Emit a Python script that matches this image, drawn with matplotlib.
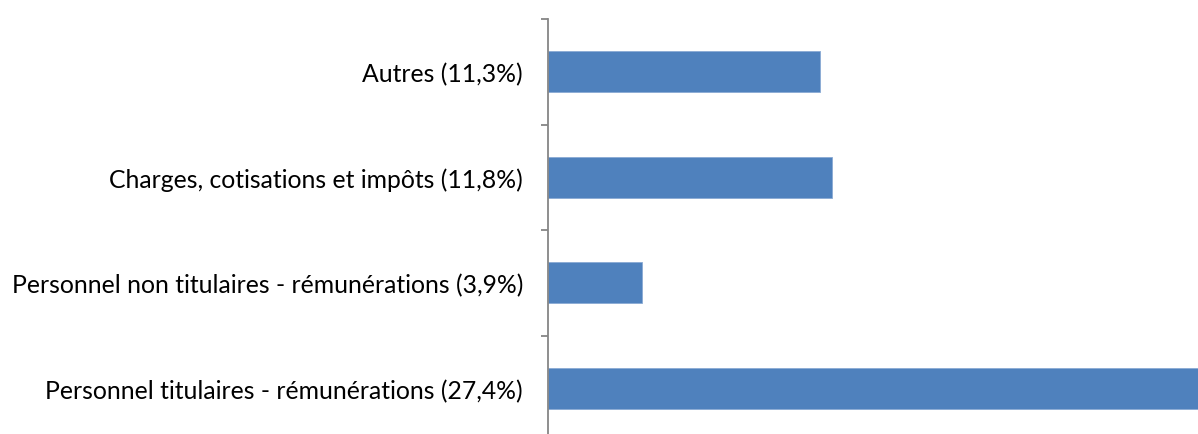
import matplotlib.pyplot as plt
import numpy as np

categories = [
    "Personnel titulaires - rémunérations (27,4%)",
    "Personnel non titulaires - rémunérations (3,9%)",
    "Charges, cotisations et impôts (11,8%)",
    "Autres (11,3%)",
]
values = [27.4, 3.9, 11.8, 11.3]

W, H = 1198, 435
fig = plt.figure(figsize=(W / 100, H / 100), dpi=100)
ax_left = 548 / W
ax_top = (H - 20) / H
ax_bottom = (H - 442) / H
ax = fig.add_axes([ax_left, ax_bottom, 1.0 - ax_left, ax_top - ax_bottom])

y = np.arange(len(categories))
ax.barh(y, values, height=0.39, color="#4f81bd", edgecolor="#8aaad4", linewidth=0.6)

ax.set_xlim(0, 27.0)
ax.set_ylim(-0.5, len(categories) - 0.5)

for side in ["top", "right", "bottom"]:
    ax.spines[side].set_visible(False)
ax.spines["left"].set_color("#868686")
ax.spines["left"].set_linewidth(1.3)

ax.set_xticks([])
ax.set_yticks(y)
ax.set_yticklabels(categories, fontsize=17.8, family="Lato", color="#000000")
ax.tick_params(axis="y", which="major", length=0, pad=18)
ax.set_yticks(np.arange(-0.5, len(categories)), minor=True)
ax.tick_params(axis="y", which="minor", length=5, width=1.3, color="#868686", direction="out")

fig.savefig("out.png", dpi=100)
